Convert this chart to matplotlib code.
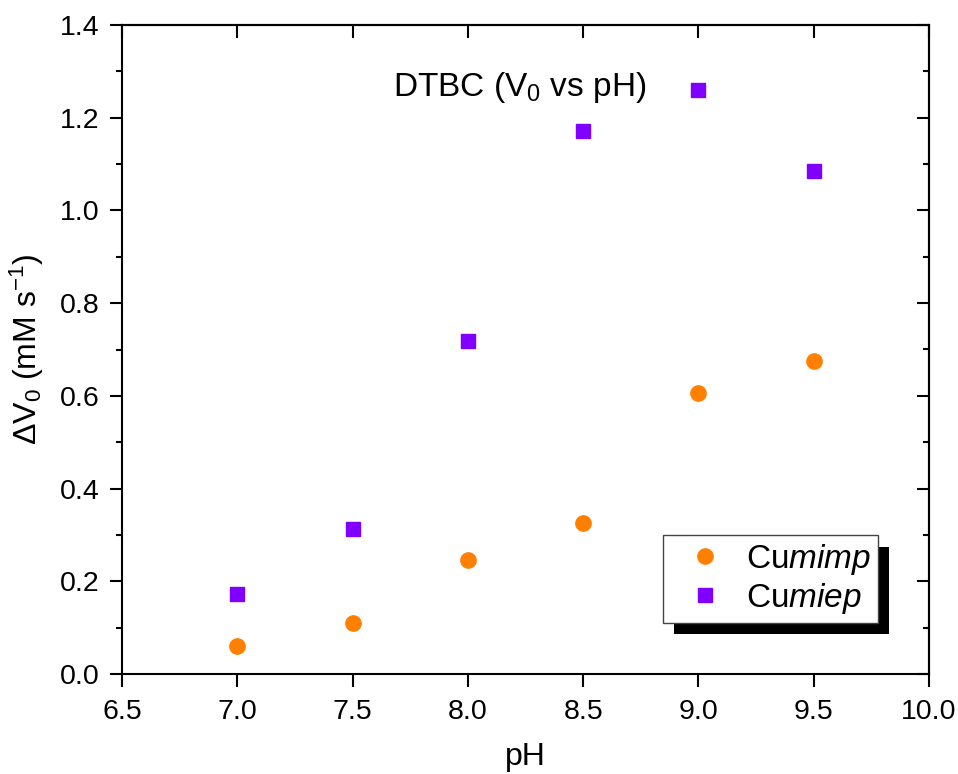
import matplotlib
matplotlib.use("Agg")
import matplotlib.pyplot as plt
import matplotlib.patheffects as pe
from matplotlib.ticker import MultipleLocator, FormatStrFormatter

plt.rcParams['font.family'] = ['Liberation Sans', 'DejaVu Sans']
plt.rcParams['mathtext.fontset'] = 'custom'
plt.rcParams['mathtext.rm'] = 'Liberation Sans'
plt.rcParams['mathtext.it'] = 'Liberation Sans:italic'
plt.rcParams['mathtext.default'] = 'regular'

ph = [7.0, 7.5, 8.0, 8.5, 9.0, 9.5]
cumimp = [0.060, 0.110, 0.246, 0.326, 0.606, 0.675]
cumiep = [0.173, 0.313, 0.718, 1.171, 1.260, 1.085]

fig = plt.figure(figsize=(9.58, 7.74), dpi=100)
ax = fig.add_axes([122/958, 1-674/774, (929-122)/958, (674-25)/774])

ax.plot(ph, cumimp, 'o', color='#FF8000', markersize=11, label='Cu$\\it{mimp}$', zorder=3)
ax.plot(ph, cumiep, 's', color='#8000FF', markersize=9.5, label='Cu$\\it{miep}$', zorder=3)

ax.set_xlim(6.5, 10.0)
ax.set_ylim(0.0, 1.4)
ax.xaxis.set_major_locator(MultipleLocator(0.5))
ax.yaxis.set_major_locator(MultipleLocator(0.2))
ax.yaxis.set_minor_locator(MultipleLocator(0.1))
ax.xaxis.set_major_formatter(FormatStrFormatter('%.1f'))
ax.yaxis.set_major_formatter(FormatStrFormatter('%.1f'))

for s in ax.spines.values():
    s.set_linewidth(1.5)

ax.tick_params(axis='both', which='major', direction='out', length=9, width=1.5,
               labelsize=20.5, pad=7, top=False, right=False)
ax.tick_params(axis='x', which='major', pad=9)
ax.tick_params(axis='y', which='minor', direction='out', length=4, width=1.5)

axt = ax.secondary_xaxis('top')
axt.xaxis.set_major_locator(MultipleLocator(0.5))
axt.tick_params(direction='in', length=9, width=1.5, labeltop=False)
axr = ax.secondary_yaxis('right')
axr.yaxis.set_major_locator(MultipleLocator(0.2))
axr.yaxis.set_minor_locator(MultipleLocator(0.1))
axr.tick_params(which='major', direction='in', length=9, width=1.5, labelright=False)
axr.tick_params(which='minor', direction='in', length=4.5, width=1.5)
for s in list(axt.spines.values()) + list(axr.spines.values()):
    s.set_linewidth(1.5)

ax.set_xlabel('pH', fontsize=23, labelpad=12)
ax.set_ylabel('ΔV$_0$ (mM s$^{-1}$)', fontsize=23, labelpad=10)

ax.text(0.493, 0.903, 'DTBC (V$_0$ vs pH)', transform=ax.transAxes,
        fontsize=24, ha='center', va='center')

leg = ax.legend(loc='lower right', bbox_to_anchor=(0.937, 0.079), fontsize=24,
                fancybox=False, edgecolor='#444444', framealpha=1,
                handletextpad=0.2, borderpad=0.2, labelspacing=0.12,
                handlelength=2.1, borderaxespad=0)
leg.get_frame().set_linewidth(1.0)
leg.get_frame().set_path_effects([
    pe.SimplePatchShadow(offset=(8, -8), shadow_rgbFace='black', alpha=1),
    pe.Normal()])

fig.savefig('out.png', dpi=100)
